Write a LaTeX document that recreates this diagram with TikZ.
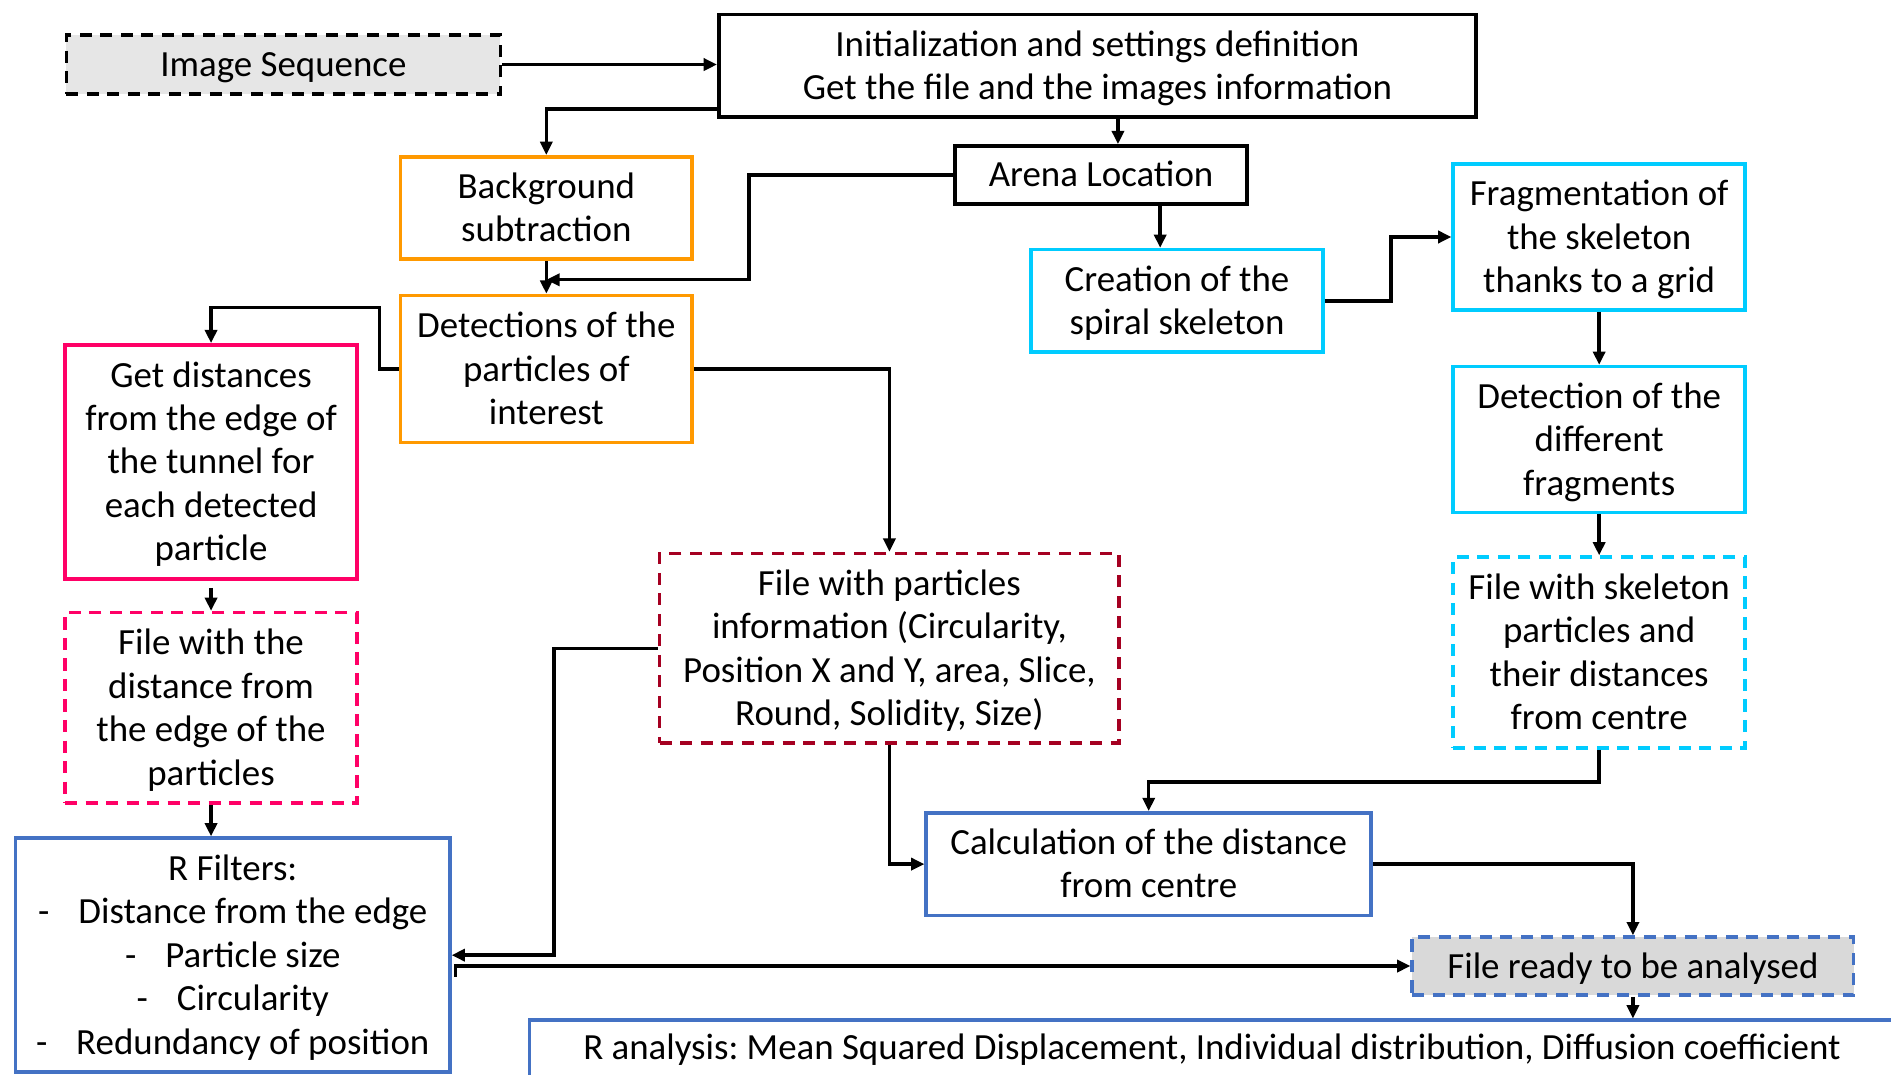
\documentclass[tikz,border=0pt]{standalone}
\usepackage{fontspec}
\setmainfont{Carlito}
\frenchspacing
\usetikzlibrary{arrows.meta}
\definecolor{cOrange}{HTML}{FF9900}
\definecolor{cCyan}{HTML}{00CCFF}
\definecolor{cPink}{HTML}{FF0066}
\definecolor{cDarkRed}{HTML}{A50021}
\definecolor{cBlue}{HTML}{4472C4}
\definecolor{cGrayA}{HTML}{E6E6E6}
\definecolor{cGrayB}{HTML}{D9D9D9}
\newcommand\mytop{\rule{0pt}{14.5pt}}
\newcommand\mybot{\rule[-4.5pt]{0pt}{4.5pt}}
\tikzset{
  box/.style={draw, line width=1.5pt, inner sep=0pt, align=center,
    font=\fontsize{15.3}{18}\selectfont},
  dashbox/.style={box, dash pattern=on 5pt off 3.5pt},
  arr/.style={line width=1.4pt, -{Triangle[length=5.5pt,width=5pt]}},
}
\begin{document}
\begin{tikzpicture}[x=0.5pt,y=-0.5pt]
\useasboundingbox (0,0) rectangle (1568,891);
\clip (0,0) rectangle (1568,891);

\node[dashbox, fill=cGrayA, minimum width=180pt, minimum height=24.5pt] (imgseq) at (235,53.5) {\mytop Image Sequence\mybot};
\node[box, minimum width=314pt, minimum height=42.5pt] (init) at (910,54.5) {\mytop Initialization and settings definition\\Get the file and the images information\mybot};
\node[box, draw=cOrange, minimum width=121pt, minimum height=42.5pt] (bg) at (453,172.5) {\mytop Background\\subtraction\mybot};
\node[box, minimum width=121pt, minimum height=24pt] (arena) at (913,145) {\mytop Arena Location\mybot};
\node[box, draw=cOrange, minimum width=121pt, minimum height=61pt] (det) at (453,306) {\mytop Detections of the\\particles of\\interest\mybot};
\node[box, draw=cCyan, minimum width=121pt, minimum height=42.5pt] (creation) at (976,249.5) {\mytop Creation of the\\spiral skeleton\mybot};
\node[box, draw=cCyan, minimum width=121pt, minimum height=60.5pt] (frag) at (1326,196.5) {\mytop Fragmentation of\\the skeleton\\thanks to a grid\mybot};
\node[box, draw=cCyan, minimum width=121pt, minimum height=60.5pt] (detfrag) at (1326,364.5) {\mytop Detection of the\\different\\fragments\mybot};
\node[dashbox, draw=cCyan, minimum width=121pt, minimum height=79pt] (fskel) at (1326,541) {\mytop File with skeleton\\particles and\\their distances\\from centre\mybot};
\node[box, draw=cPink, minimum width=121pt, minimum height=97pt] (getdist) at (175,383) {\mytop Get distances\\from the edge of\\the tunnel for\\each detected\\particle\mybot};
\node[dashbox, draw=cPink, minimum width=121pt, minimum height=79pt] (fdist) at (175,587) {\mytop File with the\\distance from\\the edge of the\\particles\mybot};
\node[dashbox, draw=cDarkRed, minimum width=190.5pt, minimum height=78.5pt] (fpart) at (737.5,537.5) {\mytop File with particles\\information (Circularity,\\Position X and Y, area, Slice,\\Round, Solidity, Size)\mybot};
\node[box, draw=cBlue, minimum width=180pt, minimum height=97pt] (rfilt) at (193,792) {\mytop R Filters:\\-\hspace{12pt}Distance from the edge\\-\hspace{12pt}Particle size\\-\hspace{12pt}Circularity\\-\hspace{12pt}Redundancy of position\mybot};
\node[box, draw=cBlue, minimum width=184.5pt, minimum height=42.5pt] (calc) at (952.5,716.5) {\mytop Calculation of the distance\\from centre\mybot};
\node[dashbox, draw=cBlue, fill=cGrayB, minimum width=183pt, minimum height=24pt] (fready) at (1354,801) {\mytop File ready to be analysed\mybot};
\node[box, draw=cBlue, minimum width=571pt, minimum height=27pt] (ranal) at (1010,873) {};
\node[font=\fontsize{15.3}{18}\selectfont, inner sep=0pt] (ranaltext) at (1005,870.5) {R analysis: Mean Squared Displacement, Individual distribution, Diffusion coefficient};

% connectors
\draw[arr] (imgseq.east) -- (imgseq.east -| init.west);
\draw[arr] ([yshift=4pt]init.south west) -| (bg.north);
\draw[arr] ([xshift=7pt]arena.north |- init.south) -- ([xshift=7pt]arena.north);
\draw[arr] (arena.west) -| (621,232) -- (bg.south |- 621,232);
\draw[arr] (bg.south) -- (det.north);
\draw[arr] ([xshift=24.5pt]arena.south) -- ([xshift=24.5pt]arena.south |- creation.north);
\draw[arr] (creation.east) -- ++(55,0) |- (frag.west);
\draw[arr] (frag.south) -- (detfrag.north);
\draw[arr] (detfrag.south) -- (fskel.north);
\draw[arr] (det.west) -- ++(-16,0) -- ++(0,-51) -| (getdist.north);
\draw[arr] (det.east) -| (fpart.north);
\draw[arr] ([yshift=-3pt]getdist.south) -- (fdist.north);
\draw[arr] (fdist.south) -- (fdist.south |- rfilt.north);
\draw[arr] (fpart.west) -- ++(-86,0) |- (rfilt.east);
\draw[arr] ([xshift=1.5pt]rfilt.east |- 0,810) -- ([xshift=1.5pt]rfilt.east |- fready.west) -- (fready.west);
\draw[arr] (fpart.south) |- (calc.west);
\draw[arr] (fskel.south) -- ++(0,27) -| (calc.north);
\draw[arr] (calc.east) -| (fready.north);
\draw[arr] (fready.south) -- (fready.south |- ranal.north);
\end{tikzpicture}
\end{document}
